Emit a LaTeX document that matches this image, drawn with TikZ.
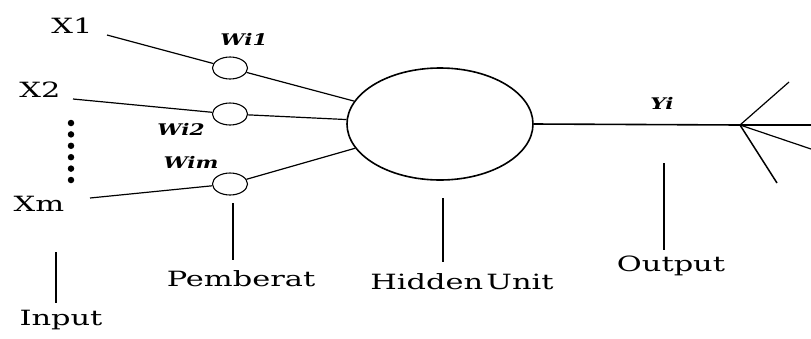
\documentclass[tikz,border=0pt]{standalone}
\usepackage{fontspec}
\usetikzlibrary{shapes.geometric}
\setmainfont{DejaVu Serif}[FakeStretch=1.45]
\newfontfamily\wfont{DejaVu Serif}[FakeStretch=1.35]
\begin{document}
\begin{tikzpicture}[x=1pt,y=-1pt,
  lbl/.style={inner sep=0pt,font=\fontsize{21}{21}\selectfont},
  wlbl/.style={inner sep=0pt,font=\wfont\fontsize{16}{16}\selectfont\bfseries\itshape},
  wcirc/.style={draw,ellipse,minimum width=35pt,minimum height=22pt,inner sep=0pt,line width=1.1pt},
  conn/.style={line width=1.2pt},
  dotc/.style={circle,fill,inner sep=0pt,minimum size=6.5pt}]
\useasboundingbox (0,0) rectangle (811,338);
% input labels
\node[lbl] (x1) at (72,26) {X1};
\node[lbl] (x2) at (40,90) {X2};
\node[lbl] (xm) at (39,204) {Xm};
\coordinate (x1s) at (107,35);
\coordinate (x2s) at (73,99);
\coordinate (xms) at (90,198);
% weights
\node[wcirc] (w1) at (230,68) {};
\node[wcirc] (w2) at (230,114) {};
\node[wcirc] (wm) at (230,184) {};
\node[wlbl] (lw1) at (244,39) {Wi1};
\node[wlbl] (lw2) at (181,129) {Wi2};
\node[wlbl] (lwm) at (191,162) {Wim};
% dots
\foreach \i in {0,...,5} \node[dotc] (d\i) at (71,123+11.4*\i) {};
% hidden unit
\node[draw,ellipse,minimum width=186pt,minimum height=112pt,inner sep=0pt,line width=1.6pt] (h) at (440,124) {};
% connectors
\draw[conn] (x1s) -- (w1);
\draw[conn] (x2s) -- (w2);
\draw[conn] (xms) -- (wm);
\draw[conn] (w1) -- (h);
\draw[conn] (w2) -- (h);
\draw[conn] (wm) -- (h);
% output
\coordinate (fan) at (740,125);
\coordinate (oe) at (811,125);
\coordinate (f1) at (789,82);
\coordinate (f2) at (811,149);
\coordinate (f3) at (777,183);
\draw[line width=1.6pt] (h.east) -- (fan) -- (oe);
\draw[conn] (fan) -- (f1);
\draw[conn] (fan) -- (f2);
\draw[line width=1.5pt] (fan) -- (f3);
\node[wlbl] (yi) at (662,103) {Yi};
% bottom labels
\node[lbl] (inp) at (61,320) {Input};
\node[lbl] (pem) at (241,279) {Pemberat};
\node[lbl] (hid) at (462,282) {Hidden\hspace{0.15em}Unit};
\node[lbl] (out) at (671,266) {Output};
\coordinate (inpt) at (56,252);
\coordinate (inpb) at (56,303);
\coordinate (pemt) at (233,203);
\coordinate (pemb) at (233,260);
\coordinate (hidt) at (443,198);
\coordinate (hidb) at (443,262);
\coordinate (outt) at (664,163);
\coordinate (outb) at (664,250);
\draw[conn] (inpt) -- (inpb);
\draw[conn] (pemt) -- (pemb);
\draw[conn] (hidt) -- (hidb);
\draw[conn] (outt) -- (outb);
\end{tikzpicture}
\end{document}
